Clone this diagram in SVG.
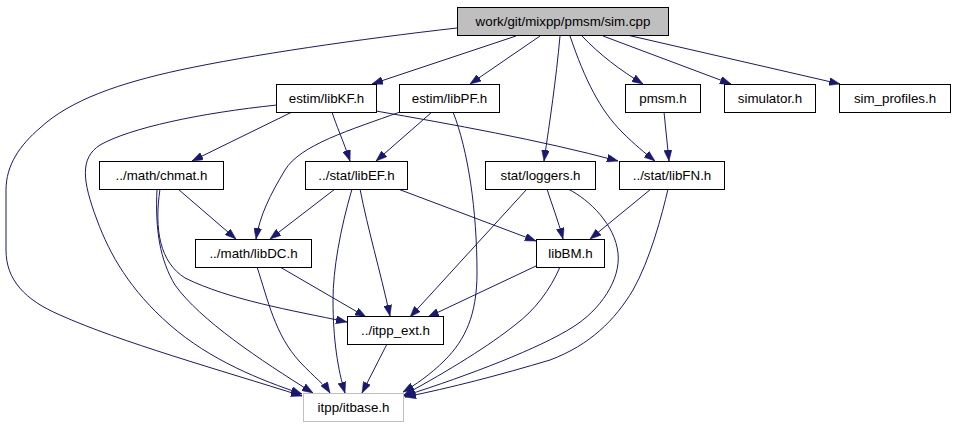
<svg xmlns="http://www.w3.org/2000/svg" width="953" height="427" viewBox="0 0 953 427">
<style>
  .box { fill: #ffffff; stroke: #000000; stroke-width: 1; }
  .root { fill: #bfbfbf; stroke: #000000; stroke-width: 1; }
  .ext { fill: #ffffff; stroke: #bfbfbf; stroke-width: 1; }
  text { font-family: "Liberation Sans", Arial, sans-serif; font-size: 13.33px; fill: #000000; text-anchor: middle; }
  .edge { fill: none; stroke: #191970; stroke-width: 1; marker-end: url(#arr); }
</style>
<defs>
  <marker id="arr" viewBox="0 0 11 8" refX="11" refY="4" markerWidth="11" markerHeight="8" markerUnits="userSpaceOnUse" orient="auto">
    <path d="M0,0 L11,4 L0,8 z" fill="#191970" stroke="#191970" stroke-width="0.5"/>
  </marker>
</defs>
<rect width="953" height="427" fill="#ffffff"/>
<g id="edges">
  <path class="edge" d="M516,36 L372,84"/>
  <path class="edge" d="M540,36 L470,84"/>
  <path class="edge" d="M560,36 C556,80 550,120 544,161"/>
  <path class="edge" d="M570,36 C585,80 600,110 622,132 C635,145 645,153 655,161"/>
  <path class="edge" d="M582,36 C600,55 620,70 643,84"/>
  <path class="edge" d="M603,36 L731,84"/>
  <path class="edge" d="M627,35 L840,84"/>
  <path class="edge" d="M457,28 C360,39 250,55 180,70 C120,83 70,100 40,128 C20,145 6,165 6,190 L6,250 C6,280 25,300 60,315 C120,342 220,370 302,396"/>
  <path class="edge" d="M292,112 L192,161"/>
  <path class="edge" d="M332,112 C336,125 343,140 350,161"/>
  <path class="edge" d="M376,111 C450,124 540,140 618,161"/>
  <path class="edge" d="M277,105 C200,113 130,128 100,145 C80,158 82,180 97,220 C110,255 130,290 170,325 C210,360 260,380 302,394"/>
  <path class="edge" d="M432,112 L376,161"/>
  <path class="edge" d="M400,112 C350,130 300,145 285,170 C270,195 260,215 256,239"/>
  <path class="edge" d="M453,112 C468,150 477,210 477,273 C477,315 465,340 445,360 C430,375 415,385 403,392"/>
  <path class="edge" d="M664,112 L669,161"/>
  <path class="edge" d="M178,189 L236,239"/>
  <path class="edge" d="M160,189 C154,230 160,262 185,278 C230,300 290,310 347,322"/>
  <path class="edge" d="M157,189 C155,230 160,260 175,285 C200,320 260,360 313,393"/>
  <path class="edge" d="M335,189 L270,239"/>
  <path class="edge" d="M360,189 C368,230 380,270 390,316"/>
  <path class="edge" d="M352,189 C340,230 333,270 333,300 C333,340 338,370 345,393"/>
  <path class="edge" d="M398,189 L536,241"/>
  <path class="edge" d="M280,267 L366,317"/>
  <path class="edge" d="M257,267 C268,300 275,335 300,362 C315,378 325,385 330,393"/>
  <path class="edge" d="M547,189 C552,205 558,220 563,239"/>
  <path class="edge" d="M527,189 L410,317"/>
  <path class="edge" d="M568,189 C590,200 615,225 618,253 C621,280 600,310 573,327 C540,348 470,375 404,396"/>
  <path class="edge" d="M651,189 L590,239"/>
  <path class="edge" d="M668,189 C662,215 650,260 633,290 C615,320 590,345 550,360 C500,375 450,388 405,397"/>
  <path class="edge" d="M536,266 L428,317"/>
  <path class="edge" d="M560,267 C550,290 535,310 515,325 C490,345 450,370 404,395"/>
  <path class="edge" d="M387,344 L362,393"/>
</g>
<g id="node_sim_cpp"><rect class="root" x="457.5" y="7.5" width="211" height="28"/><text x="563" y="25.5">work/git/mixpp/pmsm/sim.cpp</text></g>
<g id="node_libKF"><rect class="box" x="276.5" y="84.5" width="100" height="28"/><text x="326.5" y="102.5">estim/libKF.h</text></g>
<g id="node_libPF"><rect class="box" x="399.5" y="84.5" width="100" height="28"/><text x="449.5" y="102.5">estim/libPF.h</text></g>
<g id="node_pmsm"><rect class="box" x="625.5" y="84.5" width="75" height="28"/><text x="663" y="102.5">pmsm.h</text></g>
<g id="node_simulator"><rect class="box" x="724.5" y="84.5" width="91" height="28"/><text x="770" y="102.5">simulator.h</text></g>
<g id="node_sim_profiles"><rect class="box" x="839.5" y="84.5" width="111" height="28"/><text x="895" y="102.5">sim_profiles.h</text></g>
<g id="node_chmat"><rect class="box" x="99.5" y="161.5" width="124" height="28"/><text x="161.5" y="179.5">../math/chmat.h</text></g>
<g id="node_libEF"><rect class="box" x="305.5" y="161.5" width="102" height="28"/><text x="356.5" y="179.5">../stat/libEF.h</text></g>
<g id="node_loggers"><rect class="box" x="485.5" y="161.5" width="110" height="28"/><text x="540.5" y="179.5">stat/loggers.h</text></g>
<g id="node_libFN"><rect class="box" x="619.5" y="161.5" width="105" height="28"/><text x="672" y="179.5">../stat/libFN.h</text></g>
<g id="node_libDC"><rect class="box" x="195.5" y="239.5" width="116" height="28"/><text x="253.5" y="257.5">../math/libDC.h</text></g>
<g id="node_libBM"><rect class="box" x="536.5" y="239.5" width="68" height="28"/><text x="570.5" y="257.5">libBM.h</text></g>
<g id="node_itpp_ext"><rect class="box" x="347.5" y="316.5" width="96" height="28"/><text x="395.5" y="334.5">../itpp_ext.h</text></g>
<g id="node_itbase"><rect class="ext" x="303.5" y="393.5" width="100" height="28"/><text x="353.5" y="411.5">itpp/itbase.h</text></g>
</svg>
